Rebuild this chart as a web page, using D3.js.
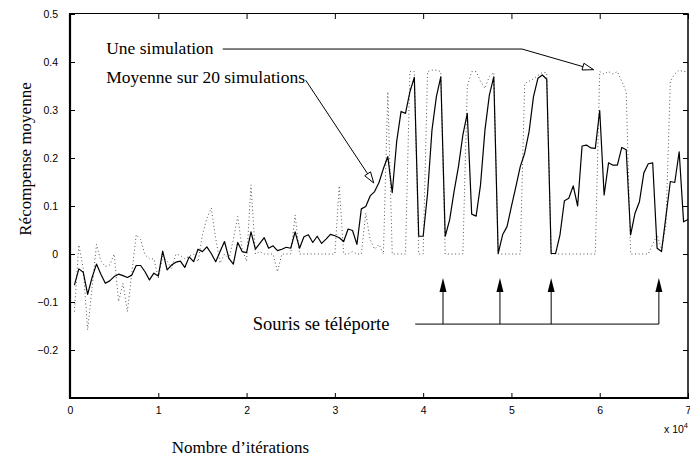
<!DOCTYPE html>
<html><head><meta charset="utf-8">
<script src="https://cdn.jsdelivr.net/npm/d3@7/dist/d3.min.js"></script>
<style>body{margin:0;background:#fff}svg{display:block}</style>
</head><body><svg id="c" width="690" height="459"></svg>
<script>
// iteration step of the samples (x = 500, 1000, ... 70000)
const STEP = 500;
// "Moyenne sur 20 simulations" (solid)
const moyenne = [-0.065,-0.031,-0.038,-0.084,-0.049,-0.021,-0.042,-0.061,-0.056,-0.047,
 -0.042,-0.045,-0.049,-0.044,-0.024,-0.024,-0.037,-0.054,-0.040,-0.046,
 0.006,-0.033,-0.023,-0.017,-0.015,-0.028,-0.006,-0.016,0.010,0.005,
 0.015,0.001,-0.016,0.005,0.026,-0.009,-0.021,0.024,0.005,0.003,
 0.046,0.010,0.022,0.034,0.012,0.017,0.007,0.010,0.014,0.012,
 0.046,0.012,0.036,0.040,0.024,0.037,0.022,0.031,0.041,0.038,
 0.034,0.026,0.052,0.049,0.020,0.094,0.099,0.121,0.130,0.149,
 0.178,0.203,0.128,0.234,0.297,0.293,0.338,0.368,0.037,0.037,
 0.126,0.258,0.328,0.369,0.037,0.071,0.130,0.182,0.248,0.293,
 0.083,0.079,0.144,0.258,0.331,0.369,0.001,0.040,0.057,0.099,
 0.140,0.182,0.210,0.255,0.328,0.366,0.373,0.364,0.001,0.001,
 0.040,0.111,0.116,0.142,0.100,0.225,0.227,0.221,0.220,0.299,
 0.123,0.190,0.185,0.185,0.222,0.217,0.040,0.085,0.109,0.169,
 0.188,0.190,0.012,0.005,0.078,0.151,0.149,0.213,0.067,0.072];
// "Une simulation" (dotted)
const simulation = [-0.12,0.019,-0.03,-0.158,-0.07,0.020,-0.015,-0.026,-0.023,0.0,
 -0.099,-0.061,-0.12,-0.04,0.04,0.03,-0.002,-0.01,-0.01,-0.05,
 -0.005,-0.015,-0.03,0.0,-0.003,-0.01,-0.005,0.0,-0.016,0.04,
 0.074,0.096,0.033,-0.019,0.0,-0.01,0.03,0.078,0.01,-0.015,
 0.144,0.0,0.005,0.0,0.0,0.0,-0.037,0.0,0.0,0.0,
 0.081,0.0,0.0,0.0,0.0,0.0,0.0,0.0,0.0,0.0,
 0.142,0.0,0.0,0.005,0.0,0.0,0.085,0.03,0.01,0.02,
 0.0,0.338,0.0,0.0,0.0,0.0,0.38,0.38,0.0,0.0,
 0.38,0.383,0.383,0.38,0.0,0.0,0.0,0.0,0.0,0.35,
 0.38,0.38,0.36,0.345,0.37,0.378,0.0,0.0,0.0,0.0,
 0.0,0.0,0.355,0.36,0.365,0.372,0.378,0.378,0.0,0.0,
 0.0,0.0,0.0,0.0,0.0,0.0,0.0,0.0,0.0,0.38,
 0.375,0.38,0.375,0.38,0.36,0.338,0.0,0.0,0.0,0.0,
 0.0,0.02,0.04,0.01,0.06,0.36,0.375,0.383,0.38,0.38];
const teleports = [42250, 48700, 54500, 66700];
const xTicks = [0,10000,20000,30000,40000,50000,60000,70000];
const xTickLabels = ["0","1","2","3","4","5","6","7"];
const yTicks = [-0.2,-0.1,0,0.1,0.2,0.3,0.4,0.5];
const yTickLabels = ["\u22120.2","\u22120.1","0","0.1","0.2","0.3","0.4","0.5"];

const svg = d3.select("#c");
const x = d3.scaleLinear().domain([0,70000]).range([70,688]);
const y = d3.scaleLinear().domain([-0.3,0.5]).range([398,14]);
const serif = "'Liberation Serif','Times New Roman',serif";
const sans = "'Liberation Sans',Arial,Helvetica,sans-serif";

// axes with inward ticks on four sides
const gB = svg.append("g").attr("transform","translate(0,398)")
  .call(d3.axisBottom(x).tickValues(xTicks).tickFormat((d,i)=>xTickLabels[i]).tickSizeInner(-5).tickSizeOuter(0).tickPadding(9));
const gT = svg.append("g").attr("transform","translate(0,14)")
  .call(d3.axisTop(x).tickValues(xTicks).tickFormat("").tickSizeInner(-5).tickSizeOuter(0));
const gL = svg.append("g").attr("transform","translate(70,0)")
  .call(d3.axisLeft(y).tickValues(yTicks).tickFormat((d,i)=>yTickLabels[i]).tickSizeInner(-5).tickSizeOuter(0).tickPadding(12));
const gR = svg.append("g").attr("transform","translate(688,0)")
  .call(d3.axisRight(y).tickValues(yTicks).tickFormat("").tickSizeInner(-5).tickSizeOuter(0));
[gB,gT,gL,gR].forEach(g=>{
  g.select(".domain").remove();
  g.selectAll(".tick line").attr("stroke","#000").attr("stroke-width",1);
  g.selectAll("text").attr("font-family",sans).attr("font-size",10.5).attr("fill","#000");
});
// frame
svg.append("line").attr("x1",70).attr("x2",688).attr("y1",13.5).attr("y2",13.5).attr("stroke","#000").attr("stroke-width",1.2);
svg.append("line").attr("x1",688).attr("x2",688).attr("y1",13).attr("y2",399).attr("stroke","#000").attr("stroke-width",1.5);
svg.append("line").attr("x1",70).attr("x2",70).attr("y1",13).attr("y2",399).attr("stroke","#000").attr("stroke-width",2.2);
svg.append("line").attr("x1",69).attr("x2",689).attr("y1",398).attr("y2",398).attr("stroke","#000").attr("stroke-width",2);

// multiplier
const mult = svg.append("text").attr("x",x(70000)).attr("y",433).attr("text-anchor","end")
  .attr("font-family",sans).attr("font-size",10.5).attr("fill","#000");
mult.append("tspan").text("x 10");
mult.append("tspan").attr("dy",-5).attr("font-size",7.5).text("4");

// data lines
const iters = moyenne.map((_,i)=>(i+1)*STEP);
const line = d3.line().x((d,i)=>x(iters[i])).y(d=>y(d));
svg.append("path").datum(simulation).attr("d",line).attr("fill","none")
  .attr("stroke","#555").attr("stroke-width",1).attr("stroke-dasharray","1,2.6");
svg.append("path").datum(moyenne).attr("d",line).attr("fill","none")
  .attr("stroke","#000").attr("stroke-width",1.2).attr("stroke-linejoin","round");

// axis titles
svg.append("text").attr("transform","translate(31,159) rotate(-90)").attr("text-anchor","middle")
  .attr("font-family",serif).attr("font-size",17).attr("fill","#000").text("Récompense moyenne");
svg.append("text").attr("x",x(19300)).attr("y",453).attr("text-anchor","middle")
  .attr("font-family",serif).attr("font-size",17).attr("fill","#000").text("Nombre d\u2019itérations");

// annotations
function openArrow(p0, pts, tip){
  const all = [p0, ...pts, tip];
  svg.append("path").attr("d", d3.line()(all))
    .attr("fill","none").attr("stroke","#000").attr("stroke-width",1);
  const prev = all[all.length-2];
  const ang = Math.atan2(tip[1]-prev[1], tip[0]-prev[0]);
  const L = 11, Wd = 3.5;
  const bx = tip[0]-L*Math.cos(ang), by = tip[1]-L*Math.sin(ang);
  const h = [[tip[0],tip[1]],[bx+Wd*Math.sin(ang), by-Wd*Math.cos(ang)],[bx-Wd*Math.sin(ang), by+Wd*Math.cos(ang)]];
  svg.append("path").attr("d","M"+h.join("L")+"Z").attr("fill","#fff").attr("stroke","#000").attr("stroke-width",1);
}
svg.append("text").attr("x",x(4100)).attr("y",y(0.416)).attr("font-family",serif).attr("font-size",17.5).attr("fill","#000").text("Une simulation");
openArrow([x(17300),y(0.427)],[[x(51200),y(0.427)]],[x(59300),y(0.384)]);
svg.append("text").attr("x",x(4100)).attr("y",y(0.357)).attr("font-family",serif).attr("font-size",17.5).attr("fill","#000").text("Moyenne sur 20 simulations");
openArrow([x(26700),y(0.362)],[],[x(34400),y(0.148)]);

svg.append("text").attr("x",x(20700)).attr("y",y(-0.158)).attr("font-family",serif).attr("font-size",18.5).attr("fill","#000").text("Souris se téléporte");
const yBase = y(-0.146), yTip = y(-0.05);
svg.append("line").attr("x1",x(39100)).attr("x2",x(teleports[teleports.length-1])).attr("y1",yBase).attr("y2",yBase).attr("stroke","#000").attr("stroke-width",1);
teleports.forEach(t=>{
  svg.append("line").attr("x1",x(t)).attr("x2",x(t)).attr("y1",yBase).attr("y2",yTip+12).attr("stroke","#000").attr("stroke-width",1);
  svg.append("path").attr("d",`M${x(t)},${yTip}L${x(t)-3.5},${yTip+14}L${x(t)+3.5},${yTip+14}Z`).attr("fill","#000");
});
</script></body></html>
